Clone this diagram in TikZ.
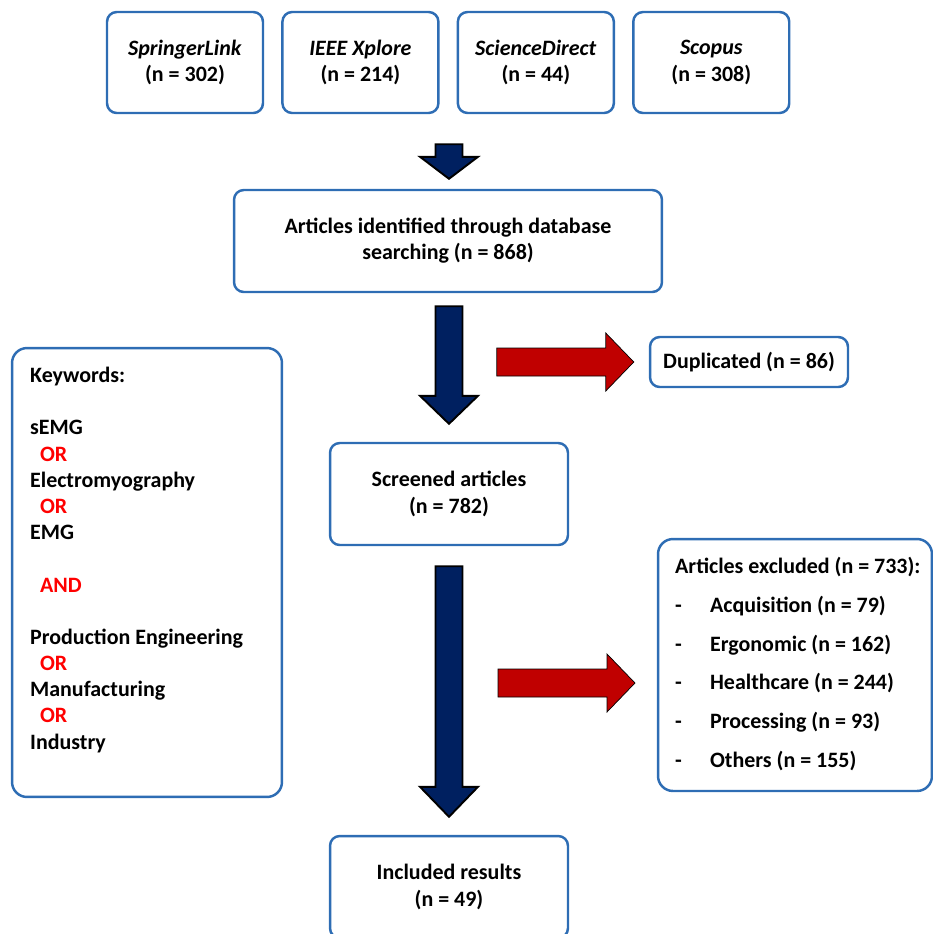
\documentclass[tikz,border=0pt]{standalone}
\usepackage{fontspec}
\setmainfont{Carlito}
\usepackage{xcolor}
\usetikzlibrary{positioning, calc}
\definecolor{BoxBlue}{HTML}{2E6DB4}
\definecolor{NavyArrow}{HTML}{002060}
\definecolor{DarkRed}{HTML}{C00000}
\definecolor{KeyRed}{HTML}{FF0000}

% block arrows: style, tail, tip, shaft half width, head half width, head length
\newcommand{\fatdown}[6]{%
  \draw[#1] ($(#2)+(-#4,0)$) -- ($(#3)+(-#4,-#6)$) -- ($(#3)+(-#5,-#6)$) -- (#3)
    -- ($(#3)+(#5,-#6)$) -- ($(#3)+(#4,-#6)$) -- ($(#2)+(#4,0)$) -- cycle;}
\newcommand{\fatright}[6]{%
  \draw[#1] ($(#2)+(0,-#4)$) -- ($(#3)+(-#6,-#4)$) -- ($(#3)+(-#6,-#5)$) -- (#3)
    -- ($(#3)+(-#6,#5)$) -- ($(#3)+(-#6,#4)$) -- ($(#2)+(0,#4)$) -- cycle;}

\begin{document}
\begin{tikzpicture}[
    x=0.02cm, y=-0.02cm,
    txt/.style={font=\fontsize{12.5}{14.9}\selectfont\bfseries},
    box/.style={txt, draw=BoxBlue, line width=1.4pt, rounded corners=5.5pt, fill=white, align=center, inner sep=2pt},
    dbbox/.style={box, minimum width=3.12cm, minimum height=2.02cm},
    stepbox/.style={box, minimum width=4.76cm, minimum height=2.04cm},
    bigbox/.style={box, rounded corners=8.5pt},
    navyarr/.style={fill=NavyArrow, draw=black, line width=1.1pt},
    redarr/.style={fill=DarkRed}
]
\useasboundingbox (0,0) rectangle (933,934);

% Databases
\node[dbbox] (spr) at (185,62.5) {\textit{SpringerLink}\\(n = 302)};
\node[dbbox, right=0.34cm of spr] (ieee) {\textit{IEEE Xplore}\\(n = 214)};
\node[dbbox, right=0.34cm of ieee] (sd) {\textit{ScienceDirect}\\(n = 44)};
\node[dbbox, right=0.34cm of sd] (sco) {\textit{Scopus}\\(n = 308)};

% Main flow
\node[box, minimum width=8.56cm, minimum height=2.04cm] (idf) at (448,241)
    {Articles identified through database\\searching (n = 868)};
\node[stepbox] (scr) at (449,494) {Screened articles\\(n = 782)};
\node[stepbox] (inc) at (449,887) {Included results\\(n = 49)};

% Side boxes
\node[box, minimum width=3.96cm, minimum height=1.0cm] (dup) at (749,362) {Duplicated (n = 86)};
\node[bigbox, minimum width=5.48cm, minimum height=5.04cm] (excl) at (795,665) {};
\node[txt, anchor=north west, align=left, inner sep=0pt] (excltext) at ([shift={(18,19)}]excl.north west) {%
    Articles excluded (n = 733):\\[7.2pt]
    \makebox[0.7cm][l]{-}Acquisition (n = 79)\\[7.2pt]
    \makebox[0.7cm][l]{-}Ergonomic (n = 162)\\[7.2pt]
    \makebox[0.7cm][l]{-}Healthcare (n = 244)\\[7.2pt]
    \makebox[0.7cm][l]{-}Processing (n = 93)\\[7.2pt]
    \makebox[0.7cm][l]{-}Others (n = 155)};

% Keywords
\node[bigbox, minimum width=5.4cm, minimum height=8.98cm] (kw) at (147,572.5) {};
\node[txt, anchor=north west, align=left, inner sep=0pt] (kwtext) at ([shift={(19,20)}]kw.north west) {%
    Keywords:\\
    ~\\
    sEMG\\
    \textcolor{KeyRed}{\hspace{0.2cm}OR}\\
    Electromyography\\
    \textcolor{KeyRed}{\hspace{0.2cm}OR}\\
    EMG\\
    ~\\
    \textcolor{KeyRed}{\hspace{0.2cm}AND}\\
    ~\\
    Production Engineering\\
    \textcolor{KeyRed}{\hspace{0.2cm}OR}\\
    Manufacturing\\
    \textcolor{KeyRed}{\hspace{0.2cm}OR}\\
    Industry};

% Arrow ends
\coordinate (a1tail) at ($(ieee.south -| idf.north)+(1,30)$);
\coordinate (a1tip) at ($(idf.north)+(1,-10)$);
\coordinate (a2tail) at ($(idf.south)+(1,13)$);
\coordinate (a2tip) at ($(scr.north)+(0,-18)$);
\coordinate (a3tail) at ($(scr.south)+(0,20)$);
\coordinate (a3tip) at ($(inc.north)+(0,-18)$);
\coordinate (r1tip) at ($(dup.west)+(-15,0)$);
\coordinate (r1tail) at ($(r1tip)+(-137,0)$);
\coordinate (r2tip) at (635,683);
\coordinate (r2tail) at (498,683);

% Block arrows
\fatdown{navyarr}{a1tail}{a1tip}{13.5}{29}{22}
\fatdown{navyarr}{a2tail}{a2tip}{13.5}{29}{28}
\fatdown{navyarr}{a3tail}{a3tip}{13.5}{29}{30}
\fatright{redarr}{r1tail}{r1tip}{14}{29}{28}
\fatright{redarr}{r2tail}{r2tip}{14}{29}{28}
\end{tikzpicture}
\end{document}
